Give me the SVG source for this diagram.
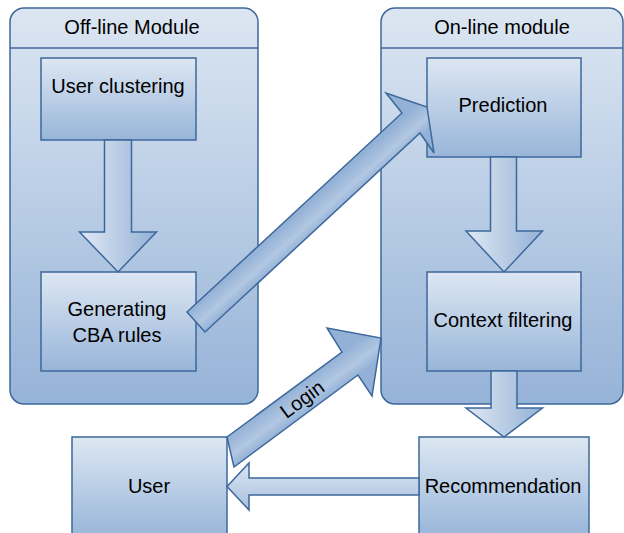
<svg xmlns="http://www.w3.org/2000/svg" width="624" height="533" viewBox="0 0 624 533">
<defs>
<linearGradient id="gCont" x1="0" y1="0" x2="0" y2="1">
<stop offset="0" stop-color="#dce6f2"/>
<stop offset="1" stop-color="#96b3d8"/>
</linearGradient>
<linearGradient id="gBox" x1="0" y1="0" x2="0" y2="1">
<stop offset="0" stop-color="#dde7f3"/>
<stop offset="1" stop-color="#98b5d9"/>
</linearGradient>
<linearGradient id="gDown" x1="0" y1="0" x2="1" y2="0">
<stop offset="0" stop-color="#e0e9f4"/>
<stop offset="1" stop-color="#93b1d6"/>
</linearGradient>
<linearGradient id="gLeft" x1="0" y1="0" x2="0" y2="1">
<stop offset="0" stop-color="#dbe5f2"/>
<stop offset="1" stop-color="#a9c0de"/>
</linearGradient>
<linearGradient id="gDiag1" gradientUnits="userSpaceOnUse" x1="187" y1="312" x2="205" y2="332">
<stop offset="0" stop-color="#93b1d6"/>
<stop offset="0.6" stop-color="#b2c7e2"/>
<stop offset="1" stop-color="#93b1d6"/>
</linearGradient>
<linearGradient id="gDiag2" gradientUnits="userSpaceOnUse" x1="227" y1="437" x2="244" y2="460">
<stop offset="0" stop-color="#93b1d6"/>
<stop offset="0.6" stop-color="#b2c7e2"/>
<stop offset="1" stop-color="#93b1d6"/>
</linearGradient>
</defs>
<style>
.cont{fill:url(#gCont);stroke:#3d689b;stroke-width:1.5}
.hdr{stroke:#3d689b;stroke-width:1.5;fill:none}
.box{fill:url(#gBox);stroke:#3d689b;stroke-width:1.5}
.arr{stroke:#3d689b;stroke-width:1.5;stroke-linejoin:miter}
.down{fill:url(#gDown)}
text{font-family:"Liberation Sans",Arial,sans-serif;font-size:20px;fill:#000;text-anchor:middle}
</style>

<g id="offline-module">
<rect class="cont" x="10" y="8" width="248" height="396" rx="14" ry="14"/>
<line class="hdr" x1="10" y1="48" x2="258" y2="48"/>
<text x="132" y="34">Off-line Module</text>
</g>

<g id="online-module">
<rect class="cont" x="381" y="8" width="242" height="396" rx="14" ry="14"/>
<line class="hdr" x1="381" y1="48" x2="623" y2="48"/>
<text x="502" y="34">On-line module</text>
</g>

<g id="user-clustering">
<rect class="box" x="41" y="58" width="155" height="82"/>
<text x="118" y="93">User clustering</text>
</g>

<g id="generating-cba-rules">
<rect class="box" x="41" y="272" width="155" height="99"/>
<text x="117" y="316">Generating</text>
<text x="117" y="342">CBA rules</text>
</g>

<g id="prediction">
<rect class="box" x="427" y="58" width="154" height="99"/>
<text x="503" y="112">Prediction</text>
</g>

<g id="context-filtering">
<rect class="box" x="427" y="272" width="154" height="99"/>
<text x="503" y="327">Context filtering</text>
</g>

<g id="user">
<rect class="box" x="72" y="437" width="155" height="100"/>
<text x="149" y="493">User</text>
</g>

<g id="recommendation">
<rect class="box" x="419" y="437" width="170" height="100"/>
<text x="503" y="493">Recommendation</text>
</g>

<g id="connectors">
<path class="arr down" d="M104.5,140 L131.5,140 L131.5,232 L156.5,232 L118,272 L79.5,232 L104.5,232 Z"/>
<path class="arr down" d="M490.5,157 L516.5,157 L516.5,231 L542.5,231 L504,272 L466,231 L490.5,231 Z"/>
<path class="arr down" d="M491,371 L517,371 L517,408 L542.5,408 L504,437 L466,408 L491,408 Z"/>
<path class="arr" fill="url(#gDiag1)" d="M205,332 L187,312 L402,113 L386,93 L427,107 L434,153 L420,133 Z"/>
<path class="arr" fill="url(#gDiag2)" d="M234,467 L227,437 L342,352 L327,328 L381,338 L372,396 L358,375 Z"/>
<path class="arr" fill="url(#gLeft)" d="M419,478 L249,478 L249,463 L227,486.5 L249,510 L249,495 L419,495 Z"/>
<text transform="translate(302,399) rotate(-36.5)" x="0" y="7">Login</text>
</g>
</svg>
